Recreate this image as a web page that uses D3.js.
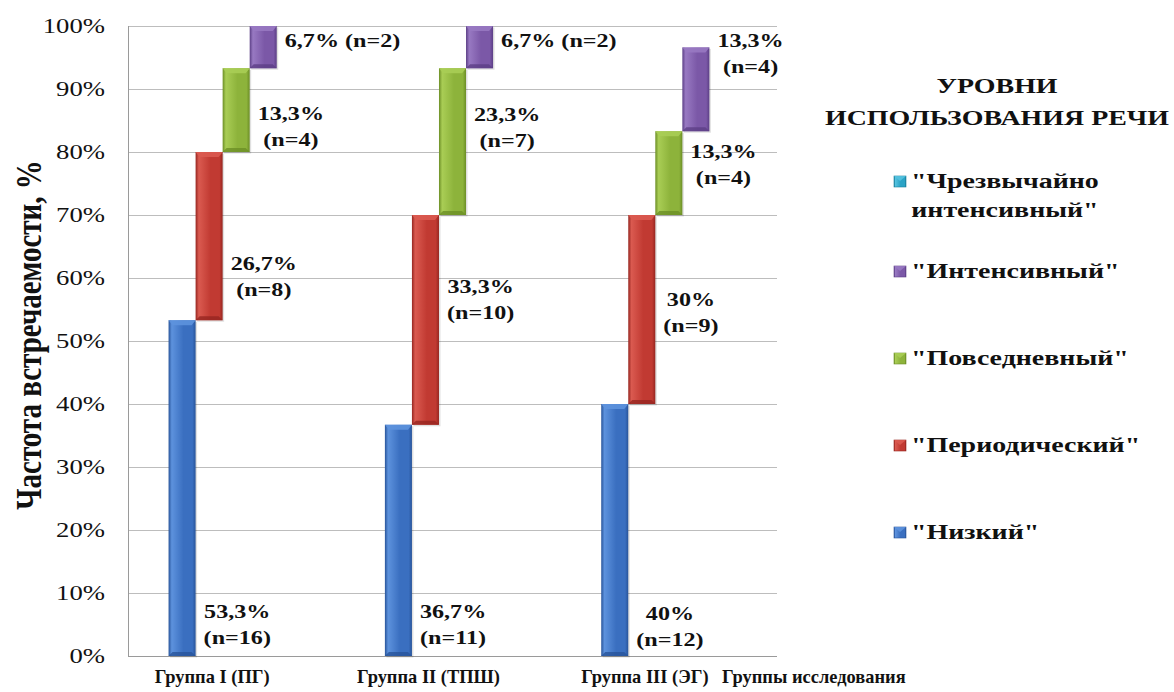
<!DOCTYPE html>
<html>
<head>
<meta charset="utf-8">
<script src="https://cdn.jsdelivr.net/npm/d3@7"></script>
<style>
  html, body { margin: 0; padding: 0; background: #fff; }
  svg { display: block; }
  text { font-family: "Liberation Serif", "Times New Roman", serif; fill: #111; }
</style>
</head>
<body>
<svg id="chart" width="1174" height="692"></svg>
<script>
// ---- data -------------------------------------------------------------
const groups = ["Группа I (ПГ)", "Группа II (ТПШ)", "Группа III (ЭГ)"];
const levelKeys = ["low", "periodic", "everyday", "intensive", "extreme"];
const levelNames = ['"Низкий"', '"Периодический"', '"Повседневный"', '"Интенсивный"', '"Чрезвычайно интенсивный"'];

// share of children per level, % (per group)
const lowPct       = [53.3, 36.7, 40];
const periodicPct  = [26.7, 33.3, 30];
const everydayPct  = [13.3, 23.3, 13.3];
const intensivePct = [6.7, 6.7, 13.3];
const extremePct   = [0, 0, 0];

// number of children per level
const lowN       = [16, 11, 12];
const periodicN  = [8, 10, 9];
const everydayN  = [4, 7, 4];
const intensiveN = [2, 2, 4];
const extremeN   = [0, 0, 0];

const yTicks = [0, 10, 20, 30, 40, 50, 60, 70, 80, 90, 100];

// ---- label placement (value units, % of axis) -------------------------
const labelAt = {
  low:       [6.0, 6.0, 5.7],
  periodic:  [61.3, 57.6, 55.6],
  everyday:  [85.1, 84.9, 79.0],
  intensive: [96.7, 96.7, 96.7]
};
const labelOneLine = { intensive: [true, true, false] };

// ---- table built from the arrays -------------------------------------
const pctByKey = { low: lowPct, periodic: periodicPct, everyday: everydayPct, intensive: intensivePct, extreme: extremePct };
const nByKey   = { low: lowN, periodic: periodicN, everyday: everydayN, intensive: intensiveN, extreme: extremeN };
const table = groups.map((g, i) => {
  const row = { group: g };
  levelKeys.forEach(k => row[k] = pctByKey[k][i]);
  return row;
});
const stacked = d3.stack().keys(levelKeys)(table);

// ---- appearance -------------------------------------------------------
const colors = {
  low:       { base: "#3a6fc0", light: "#5d92dd", dark: "#28549a" },
  periodic:  { base: "#c13a32", light: "#da5a50", dark: "#962620" },
  everyday:  { base: "#8db33b", light: "#a9cd55", dark: "#6c8e26" },
  intensive: { base: "#7b58a7", light: "#9879c2", dark: "#5c3f86" },
  extreme:   { base: "#2aa3c6", light: "#55c2df", dark: "#1a7f9c" }
};
const SX = 1.27; // horizontal stretch of the lettering

const svg = d3.select("#chart");
const W = 1174, H = 692;
const margin = { left: 128, right: W - 777, top: 26, bottom: H - 656 };

const x = d3.scaleBand().domain(groups).range([margin.left, W - margin.right]).padding(0);
const xs = d3.scaleBand().domain(levelKeys).range([0, x.bandwidth()]).paddingInner(0).paddingOuter(1.5);
const y = d3.scaleLinear().domain([0, 100]).range([H - margin.bottom, margin.top]);

// gradients for the bevelled bars
const defs = svg.append("defs");
levelKeys.forEach(k => {
  const c = colors[k];
  const gr = defs.append("linearGradient").attr("id", "g-" + k)
    .attr("x1", 0).attr("x2", 1).attr("y1", 0).attr("y2", 0);
  gr.append("stop").attr("offset", "0%").attr("stop-color", c.dark);
  gr.append("stop").attr("offset", "12%").attr("stop-color", c.light);
  gr.append("stop").attr("offset", "55%").attr("stop-color", c.base);
  gr.append("stop").attr("offset", "88%").attr("stop-color", c.base);
  gr.append("stop").attr("offset", "100%").attr("stop-color", c.dark);
});

function stext(parent, px, py, str, opt) {
  const sx = opt.sx || SX;
  const t = parent.append("text")
    .attr("transform", `translate(${px},${py}) scale(${sx},1)${opt.rotate ? " rotate(" + opt.rotate + ")" : ""}`)
    .attr("text-anchor", opt.anchor || "start")
    .attr("font-size", opt.size)
    .attr("font-weight", opt.weight || "normal")
    .text(str);
  if (opt.dy) t.attr("dy", opt.dy);
  return t;
}

// ---- grid and axes ----------------------------------------------------
const grid = svg.append("g");
grid.selectAll("line").data(yTicks).join("line")
  .attr("x1", margin.left).attr("x2", W - margin.right)
  .attr("y1", d => Math.round(y(d)) + 0.5).attr("y2", d => Math.round(y(d)) + 0.5)
  .attr("stroke", d => d === 0 ? "#9a9a9a" : "#bdbdbd").attr("stroke-width", 1);
svg.append("line")
  .attr("x1", margin.left + 0.5).attr("x2", margin.left + 0.5)
  .attr("y1", y(100)).attr("y2", y(0))
  .attr("stroke", "#9a9a9a");

const yLab = svg.append("g");
yTicks.forEach(t => stext(yLab, 105, y(t), t + "%", { size: 21, anchor: "end", dy: "0.35em" }));

stext(svg, 41, 335, "Частота встречаемости, %", { size: 29, weight: "bold", anchor: "middle", rotate: -90 });

const xLab = svg.append("g");
groups.forEach(g => stext(xLab, x(g) + x.bandwidth() / 2 - 24, 683, g, { size: 19, weight: "bold", anchor: "middle", sx: 0.97 }));
stext(svg, 722, 683, "Группы исследования", { size: 19, weight: "bold", anchor: "start", sx: 0.97 });

// ---- bars -------------------------------------------------------------
const barsG = svg.append("g");
stacked.forEach(layer => {
  const k = layer.key;
  layer.forEach((seg, i) => {
    const v = seg[1] - seg[0];
    if (v <= 0) return;
    const bx = x(groups[i]) + xs(k), bw = xs.bandwidth();
    const top = y(seg[1]), bot = y(seg[0]);
    barsG.append("rect")
      .attr("x", bx + 1.5).attr("y", top + 1.5).attr("width", bw).attr("height", bot - top)
      .attr("fill", "#000").attr("opacity", 0.12);
    barsG.append("rect")
      .attr("x", bx).attr("y", top).attr("width", bw).attr("height", bot - top)
      .attr("fill", `url(#g-${k})`);
    // top bevel highlight
    barsG.append("path")
      .attr("d", `M${bx},${top} L${bx + bw},${top} L${bx + bw - 4},${top + 5} L${bx + 4},${top + 5} Z`)
      .attr("fill", colors[k].light).attr("opacity", 0.9);
    // bottom bevel shade
    barsG.append("path")
      .attr("d", `M${bx},${bot} L${bx + bw},${bot} L${bx + bw - 4},${bot - 4} L${bx + 4},${bot - 4} Z`)
      .attr("fill", colors[k].dark).attr("opacity", 0.8);
  });
});

// ---- value labels -----------------------------------------------------
const fmt = v => String(v).replace(".", ",") + "%";
const labG = svg.append("g");
stacked.forEach(layer => {
  const k = layer.key;
  if (!labelAt[k]) return;
  layer.forEach((seg, i) => {
    const v = pctByKey[k][i], n = nByKey[k][i];
    const right = x(groups[i]) + xs(k) + xs.bandwidth();
    const base = y(labelAt[k][i]);
    const one = labelOneLine[k] && labelOneLine[k][i];
    const lines = one ? [fmt(v) + " (n=" + n + ")"] : [fmt(v), "(n=" + n + ")"];
    const ts = lines.map((s, j) => stext(labG, 0, base + j * 26, s, { size: 19, weight: "bold", anchor: "middle" }));
    const wmax = d3.max(ts, t => t.node().getComputedTextLength()) * SX;
    const cx = right + 8 + wmax / 2;
    ts.forEach((t, j) => t.attr("transform", `translate(${cx},${base + j * 26}) scale(${SX},1)`));
  });
});

// ---- legend -----------------------------------------------------------
const leg = svg.append("g");
stext(leg, 997, 93, "УРОВНИ", { size: 22, weight: "bold", anchor: "middle" });
stext(leg, 997, 125, "ИСПОЛЬЗОВАНИЯ РЕЧИ", { size: 22, weight: "bold", anchor: "middle" });

const legendOrder = levelKeys.slice().reverse();
const legendBase = [188, 278, 365, 452, 539];
legendOrder.forEach((k, i) => {
  const by = legendBase[i];
  const name = levelNames[levelKeys.indexOf(k)];
  leg.append("rect").attr("x", 894).attr("y", by - 12).attr("width", 12).attr("height", 11)
    .attr("fill", `url(#g-${k})`).attr("stroke", colors[k].dark).attr("stroke-width", 0.6);
  leg.append("path")
    .attr("d", `M894,${by - 12} L906,${by - 12} L900,${by - 7} Z`)
    .attr("fill", colors[k].light).attr("opacity", 0.9);
  if (k === "extreme") {
    const parts = ['"Чрезвычайно', 'интенсивный"'];
    const ts = parts.map((s, j) => stext(leg, 0, by + j * 29, s, { size: 22, weight: "bold", anchor: "middle" }));
    const wmax = d3.max(ts, t => t.node().getComputedTextLength()) * SX;
    const cx = 911 + wmax / 2;
    ts.forEach((t, j) => t.attr("transform", `translate(${cx},${by + j * 29}) scale(${SX},1)`));
  } else {
    stext(leg, 911, by, name, { size: 22, weight: "bold", anchor: "start" });
  }
});
</script>
</body>
</html>
